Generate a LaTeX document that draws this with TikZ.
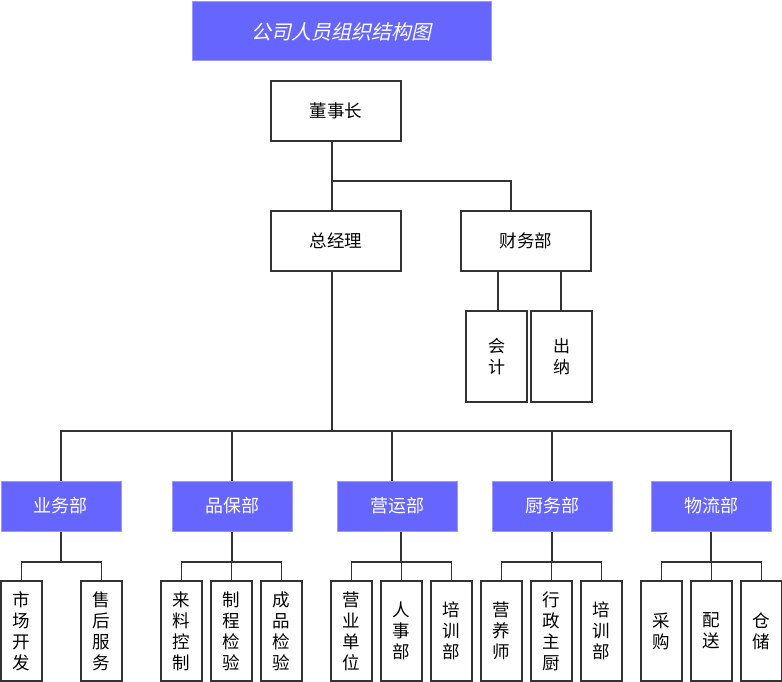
\documentclass[tikz,border=0pt]{standalone}
\usepackage{fontspec}
\setmainfont{Noto Sans CJK SC}
\newfontfamily\titlefont[FakeSlant=0.22]{Noto Sans CJK SC}
\definecolor{deptblue}{HTML}{6666FF}
\definecolor{deptedge}{HTML}{9999FF}
\definecolor{ink}{HTML}{333333}
\tikzset{
  conn/.style={draw=ink, line width=1.5pt},
  plainbox/.style={draw=ink, line width=1.6pt, fill=white, inner sep=0pt,
    font=\fontsize{17.5}{20}\selectfont, text=black},
  deptbox/.style={draw=deptedge, line width=1pt, fill=deptblue, inner sep=0pt,
    minimum width=120pt, minimum height=50pt, text=white, font=\fontsize{18}{20}\selectfont},
  leafbox/.style={plainbox, minimum width=41pt, minimum height=100pt,
    text width=18pt, align=center, font=\fontsize{17.5}{21}\selectfont},
  midbox/.style={plainbox, minimum width=130pt, minimum height=60pt},
  smallbox/.style={plainbox, minimum width=61pt, minimum height=91pt,
    text width=18pt, align=center, font=\fontsize{17}{21}\selectfont},
}
\begin{document}
\begin{tikzpicture}[x=1pt,y=-1pt]
\useasboundingbox (0,0) rectangle (782,682);
% title
\node[draw=deptedge, line width=1pt, fill=deptblue, minimum width=299pt, minimum height=59pt,
  text=white, font=\titlefont\fontsize{20}{22}\selectfont, inner sep=0pt] (title) at (341.5,31.5) {公司人员组织结构图};
% upper levels
\node[midbox] (dsz) at (336,111) {董事长};
\node[midbox] (zjl) at (336,241) {总经理};
\node[midbox] (cwb) at (526,241) {财务部};
\node[smallbox] (kj) at (496.5,356.5) {会\\计};
\node[smallbox] (cn) at (561.5,356.5) {出\\纳};
% departments
\node[deptbox] (ywb) at (61,506) {业务部};
\node[deptbox] (pbb) at (232,506) {品保部};
\node[deptbox] (yyb) at (397,506) {营运部};
\node[deptbox] (cfb) at (552,506) {厨务部};
\node[deptbox] (wlb) at (711,506) {物流部};
% leaves
\node[leafbox] (a1) at (21.5,631) {市\\场\\开\\发};
\node[leafbox] (a2) at (101.5,631) {售\\后\\服\\务};
\node[leafbox] (b1) at (181.5,631) {来\\料\\控\\制};
\node[leafbox] (b2) at (231.5,631) {制\\程\\检\\验};
\node[leafbox] (b3) at (281.5,631) {成\\品\\检\\验};
\node[leafbox] (c1) at (351.5,631) {营\\业\\单\\位};
\node[leafbox] (c2) at (401.5,631) {人\\事\\部};
\node[leafbox] (c3) at (451.5,631) {培\\训\\部};
\node[leafbox] (d1) at (501.5,631) {营\\养\\师};
\node[leafbox] (d2) at (551.5,631) {行\\政\\主\\厨};
\node[leafbox] (d3) at (601.5,631) {培\\训\\部};
\node[leafbox] (e1) at (661.5,631) {采\\购};
\node[leafbox] (e2) at (711.5,631) {配\\送};
\node[leafbox] (e3) at (761.5,631) {仓\\储};
% connectors: top
\coordinate (j1) at (332,181);
\coordinate (bus) at (332,431);
\coordinate (sb) at (0,562);
\draw[conn] (dsz.south -| j1) -- (zjl.north -| j1);
\draw[conn] (j1) -| ([xshift=-15pt]cwb.north);
\draw[conn] ([xshift=-28pt]cwb.south) -- ([xshift=-28pt]cwb.south |- kj.north);
\draw[conn] ([xshift=35pt]cwb.south) -- ([xshift=35pt]cwb.south |- cn.north);
% main bus
\draw[conn] (zjl.south -| bus) -- (bus);
\draw[conn] (ywb.north) -- (ywb.north |- bus) -- ([xshift=20pt]wlb.north |- bus) -- ([xshift=20pt]wlb.north);
\draw[conn] (pbb.north) -- (pbb.north |- bus);
\draw[conn] ([xshift=-5pt]yyb.north) -- ([xshift=-5pt]yyb.north |- bus);
\draw[conn] (cfb.north) -- (cfb.north |- bus);
% sub bars
\draw[conn] (ywb.south) -- (ywb.south |- sb);
\draw[conn] (a1.north) -- (a1.north |- sb) -- (a2.north |- sb) -- (a2.north);
\draw[conn] (pbb.south) -- (pbb.south |- sb);
\draw[conn] (b1.north) -- (b1.north |- sb) -- (b3.north |- sb) -- (b3.north);
\draw[conn] (b2.north) -- (b2.north |- sb);
\draw[conn] ([xshift=4pt]yyb.south) -- ([xshift=4pt]yyb.south |- sb);
\draw[conn] (c1.north) -- (c1.north |- sb) -- (c3.north |- sb) -- (c3.north);
\draw[conn] (c2.north) -- (c2.north |- sb);
\draw[conn] (cfb.south) -- (cfb.south |- sb);
\draw[conn] (d1.north) -- (d1.north |- sb) -- (d3.north |- sb) -- (d3.north);
\draw[conn] (d2.north) -- (d2.north |- sb);
\draw[conn] (wlb.south) -- (wlb.south |- sb);
\draw[conn] (e1.north) -- (e1.north |- sb) -- (e3.north |- sb) -- (e3.north);
\draw[conn] (e2.north) -- (e2.north |- sb);
\end{tikzpicture}
\end{document}
